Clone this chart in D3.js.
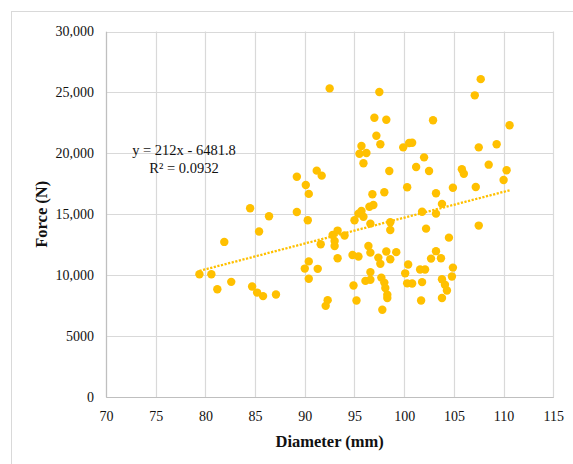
<!DOCTYPE html>
<html>
<head>
<meta charset="utf-8">
<script src="https://cdn.jsdelivr.net/npm/d3@7"></script>
<style>
html,body{margin:0;padding:0;background:#fff;}
svg{display:block;}
svg text{font-family:"Liberation Serif","Times New Roman",serif !important;}
</style>
</head>
<body>
<svg id="chart" width="573" height="464"></svg>
<script>
const diameter = [
79.4,80.6,81.2,81.9,82.6,84.5,84.7,85.2,85.4,85.8,86.4,87.1,89.2,89.2,90.0,90.1,90.3,90.4,90.4,90.4,
91.2,91.7,91.3,91.6,92.1,92.3,92.5,92.8,93.0,93.0,93.3,93.3,94.0,94.8,94.9,95.0,95.2,95.4,95.4,95.5,
95.7,95.7,95.9,95.9,96.1,96.2,96.4,96.5,96.6,96.6,96.6,96.6,96.8,96.9,97.0,97.2,97.4,97.5,97.6,97.6,
97.7,97.8,98.0,98.0,98.1,98.2,98.2,98.3,98.3,98.5,98.6,98.6,98.6,99.2,99.9,100.1,100.3,100.3,100.4,100.5,
100.8,100.8,101.2,101.6,101.7,101.8,101.8,102.0,102.1,102.2,102.5,102.7,102.9,103.2,103.2,103.2,103.7,103.8,103.8,103.8,
104.1,104.3,104.5,104.8,104.9,104.9,105.8,106.0,107.1,107.2,107.5,107.5,107.7,108.5,109.3,110.0,110.3,110.6
];
const force = [
10080,10080,8850,12730,9450,15490,9070,8570,13580,8280,14840,8410,18080,15190,10540,17400,14510,16670,11130,9700,
18580,18170,10520,12540,7480,7950,25330,13300,12810,12400,13660,11390,13250,11660,9150,14510,7920,15050,11530,19970,
20600,15270,19180,14800,9530,20030,12400,15620,14230,11850,10250,9620,16640,15760,22920,21440,11440,25030,20740,10930,
9800,7160,16800,9390,8940,22760,11940,8390,8120,18550,14350,13710,11310,11890,20490,10150,17210,9330,10870,20850,
20870,9310,18880,10460,7920,15210,9430,19670,10460,13820,18550,11360,22720,16720,15050,11970,11390,15850,9670,8120,
9210,8740,13080,9890,17180,10620,18690,18330,24760,17240,20490,14070,26090,19070,20740,17810,18610,22300
];
const xTicks = [70,75,80,85,90,95,100,105,110,115];
const yTicks = [0,5000,10000,15000,20000,25000,30000];
const yTickLabels = ["0","5000","10,000","15,000","20,000","25,000","30,000"];
const trendSlope = 212;
const trendIntercept = -6481.8;
const equationLines = ["y = 212x - 6481.8", "R\u00B2 = 0.0932"];
const xTitle = "Diameter (mm)";
const yTitle = "Force (N)";

const svg = d3.select("#chart");
const gold = "#FFC000";
const grid = "#d9d9d9";
const serif = '"Liberation Serif","Times New Roman",serif';

svg.append("rect").attr("x",11.5).attr("y",11.5).attr("width",600).attr("height",500)
  .attr("fill","#fff").attr("stroke",grid).attr("stroke-width",1);

const x = d3.scaleLinear().domain([70,115]).range([106,553.3]);
const y = d3.scaleLinear().domain([0,30000]).range([397,31.5]);

// gridlines
svg.append("g").selectAll("line").data(xTicks).join("line")
  .attr("x1",d=>Math.round(x(d))+0.5).attr("x2",d=>Math.round(x(d))+0.5)
  .attr("y1",y(30000)).attr("y2",y(0))
  .attr("stroke",grid).attr("stroke-width",1.2);
svg.append("g").selectAll("line").data(yTicks).join("line")
  .attr("x1",x(70)).attr("x2",x(115))
  .attr("y1",d=>Math.round(y(d))+0.5).attr("y2",d=>Math.round(y(d))+0.5)
  .attr("stroke",grid).attr("stroke-width",1.2);

// axes
const xAxis = svg.append("g").attr("transform",`translate(0,${y(0)})`)
  .call(d3.axisBottom(x).tickValues(xTicks).tickSize(0).tickPadding(14.5).tickFormat(d3.format("d")));
xAxis.attr("font-family",serif);
xAxis.select(".domain").attr("stroke","#bfbfbf").attr("stroke-width",1.2);
xAxis.selectAll("text").attr("font-size",14).attr("fill","#111").style("font-family",serif);

const yAxis = svg.append("g").attr("transform",`translate(${x(70)},0)`)
  .call(d3.axisLeft(y).tickValues(yTicks).tickSize(0).tickPadding(12).tickFormat((d,i)=>yTickLabels[i]));
yAxis.attr("font-family",serif);
yAxis.select(".domain").attr("stroke","#bfbfbf").attr("stroke-width",1.2);
yAxis.selectAll("text").attr("font-size",14).attr("fill","#111").style("font-family",serif);

// trendline
const data = diameter.map((d,i)=>({x:d,y:force[i]}));
const xmin = d3.min(diameter), xmax = d3.max(diameter);
svg.append("line")
  .attr("x1",x(xmin)).attr("y1",y(trendSlope*xmin+trendIntercept))
  .attr("x2",x(xmax)).attr("y2",y(trendSlope*xmax+trendIntercept))
  .attr("stroke",gold).attr("stroke-width",2.3).attr("stroke-dasharray","2.2,1.5");

// points
svg.append("g").selectAll("circle").data(data).join("circle")
  .attr("cx",d=>x(d.x)).attr("cy",d=>y(d.y)).attr("r",4.2).attr("fill",gold);

// equation
svg.append("text").attr("x",184).attr("y",155).attr("text-anchor","middle")
  .attr("font-size",14.5).attr("fill","#111").style("font-family",serif).text(equationLines[0]);
svg.append("text").attr("x",184).attr("y",172.5).attr("text-anchor","middle")
  .attr("font-size",14.5).attr("fill","#111").style("font-family",serif).text(equationLines[1]);

// titles
svg.append("text").attr("x",(x(70)+x(115))/2).attr("y",447).attr("text-anchor","middle")
  .attr("font-size",16.5).attr("font-weight","bold").attr("fill","#111").style("font-family",serif).text(xTitle);
svg.append("text").attr("transform",`translate(47,${(y(0)+y(30000))/2}) rotate(-90)`)
  .attr("text-anchor","middle").attr("font-size",16.5).attr("font-weight","bold").attr("fill","#111")
  .style("font-family",serif).text(yTitle);
</script>
</body>
</html>
